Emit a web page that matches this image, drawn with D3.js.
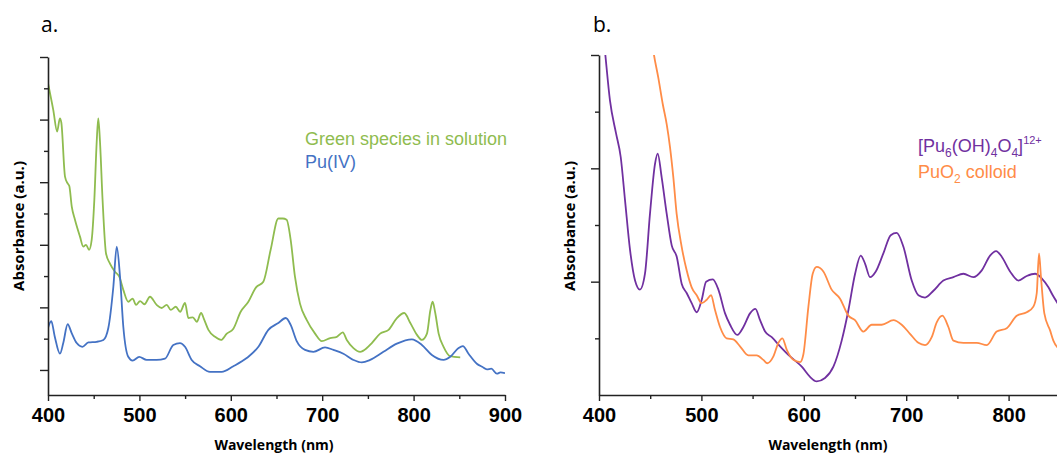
<!DOCTYPE html>
<html>
<head>
<meta charset="utf-8">
<script src="https://cdn.jsdelivr.net/npm/d3@7"></script>
<style>
  body { margin: 0; background: #fff; }
  svg { display: block; }
  .tick text { font-family: "Liberation Sans", Arial, sans-serif; font-weight: bold; font-size: 20px; fill: #000; }
  .title { font-family: "Open Sans", sans-serif; font-weight: bold; fill: #000; }
  .legend { font-family: "Liberation Sans", Arial, sans-serif; font-size: 18px; }
</style>
</head>
<body>
<svg id="chart" width="1057" height="454"></svg>
<script>
// panel a: [nm, absorbance]
const greenNm = [400, 405.8, 410, 413, 414.6, 418.6, 421.5, 423.3, 426, 429.5, 435, 438.6, 441.6, 444.9, 447.8, 450.7, 453.3, 455, 456.8, 459.7, 463.5, 467.8, 473.3, 478, 482.4, 487.8, 492.6, 496.3, 500.7, 505.5, 511.6, 518.9, 524.4, 529.9, 534.3, 539.8, 544.6, 549.9, 553.6, 558.5, 562.8, 567.5, 571, 575.5, 582.8, 589.3, 595.6, 602.8, 610.8, 619.2, 627.6, 635.6, 643.6, 652, 656.8, 661.1, 665.5, 670.2, 675.7, 683, 692.2, 699.5, 708.7, 716, 722.5, 726.9, 734.2, 741.5, 748.8, 754.3, 763.4, 772.6, 781.7, 789.8, 796.4, 803.7, 809.1, 814.6, 818.3, 820.8, 823.7, 827.4, 832.8, 840.1, 851];
const greenAbs = [4.58, 4.15, 3.81, 4.02, 3.95, 3.09, 2.98, 2.94, 2.61, 2.40, 2.13, 1.97, 2.00, 1.92, 2.08, 2.72, 3.65, 4.02, 3.67, 2.72, 1.86, 1.70, 1.57, 1.49, 1.28, 1.09, 1.14, 1.04, 1.10, 1.05, 1.17, 1.04, 0.99, 1.04, 0.96, 1.01, 0.93, 1.07, 0.83, 0.84, 0.77, 0.91, 0.80, 0.64, 0.53, 0.48, 0.58, 0.66, 0.93, 1.09, 1.32, 1.41, 1.92, 2.42, 2.42, 2.40, 2.08, 1.49, 1.06, 0.80, 0.58, 0.46, 0.51, 0.53, 0.60, 0.48, 0.35, 0.29, 0.35, 0.43, 0.58, 0.64, 0.83, 0.91, 0.75, 0.56, 0.48, 0.58, 0.95, 1.09, 0.91, 0.58, 0.37, 0.22, 0.20];

const blueNm = [400, 403.6, 407.3, 413.1, 416.7, 421.5, 425.9, 431.4, 437.6, 444.2, 453.3, 460.6, 466, 471.5, 475.2, 478.8, 482.4, 487.8, 492.6, 499.8, 507.9, 518.9, 528, 537.1, 544.4, 549.9, 557.2, 566.3, 577.2, 590, 602.8, 617.4, 630.2, 641.1, 652, 660.1, 665.5, 672.1, 681.2, 690.4, 703.1, 712.3, 723.2, 734.2, 743.3, 752.4, 767, 781.7, 798.1, 809.1, 820, 832.8, 840.1, 849.2, 853.9, 860.1, 869.2, 875, 880.2, 885, 891.1, 895, 900];
const blueAbs = [0.67, 0.78, 0.54, 0.26, 0.43, 0.73, 0.59, 0.43, 0.37, 0.44, 0.45, 0.48, 0.67, 1.33, 1.97, 1.49, 0.69, 0.21, 0.15, 0.21, 0.16, 0.16, 0.18, 0.40, 0.43, 0.37, 0.16, 0.06, -0.03, -0.03, 0.06, 0.19, 0.37, 0.64, 0.75, 0.83, 0.72, 0.46, 0.32, 0.29, 0.36, 0.32, 0.26, 0.16, 0.12, 0.16, 0.29, 0.42, 0.49, 0.40, 0.24, 0.16, 0.21, 0.35, 0.38, 0.26, 0.10, 0.05, 0.01, 0.02, -0.06, -0.04, -0.05];

// panel b
const purpleNm = [403, 406.2, 410.7, 416.6, 421.2, 425.4, 430.3, 435.2, 440, 444.9, 449.8, 454.7, 457.3, 461.2, 466.1, 471, 475.9, 480.8, 485.6, 490.5, 495.4, 500.3, 504.6, 511.1, 516.6, 523.1, 528, 535.1, 541, 547.5, 552.7, 557.3, 562.2, 568.7, 576.8, 586.6, 598, 606.1, 612.6, 620.7, 628.9, 637, 643.6, 650.1, 655.6, 659.8, 664.7, 670.3, 677.7, 684.9, 690.7, 697.2, 705.4, 711.9, 718.4, 726.6, 736.3, 746.1, 755.9, 765.6, 773.8, 781.9, 787.8, 793.3, 801.4, 809.6, 817.7, 825.8, 832.3, 838.9, 843.1, 850];
const purpleAbs = [3.3, 3.0, 2.60, 2.31, 2.10, 1.72, 1.28, 1.01, 0.93, 1.07, 1.60, 2.04, 2.13, 1.92, 1.60, 1.32, 1.22, 0.98, 0.90, 0.81, 0.73, 0.84, 1.00, 1.02, 0.93, 0.72, 0.62, 0.53, 0.60, 0.72, 0.76, 0.66, 0.56, 0.51, 0.43, 0.34, 0.25, 0.16, 0.12, 0.15, 0.25, 0.48, 0.75, 1.07, 1.23, 1.16, 1.04, 1.09, 1.25, 1.41, 1.43, 1.31, 1.01, 0.88, 0.86, 0.92, 1.01, 1.04, 1.07, 1.04, 1.10, 1.23, 1.27, 1.22, 1.09, 1.01, 1.05, 1.07, 1.03, 0.95, 0.88, 0.78];

const orangeNm = [452, 453.7, 457.9, 462.2, 466.1, 469.3, 472.6, 475.8, 480.7, 485.6, 490.5, 495.4, 500.3, 505.2, 509.4, 513.3, 518.2, 524.7, 531.2, 537.7, 545.8, 554, 560.5, 564.4, 570.3, 575.2, 579.1, 583.3, 589.8, 596.4, 599.6, 604.5, 608.7, 612.6, 619.1, 627.2, 635.4, 643.5, 650, 658.2, 666.3, 676.1, 687.5, 695.6, 703.7, 711.9, 718.4, 724.9, 729.8, 735.3, 741.2, 746.1, 755.9, 768.9, 778.7, 788.4, 798.2, 808, 817.7, 824.2, 827.5, 829.7, 831.6, 834.9, 840.5, 843.7, 850];
const orangeAbs = [3.1, 3.0, 2.80, 2.57, 2.39, 2.19, 1.92, 1.60, 1.31, 1.10, 0.95, 0.88, 0.81, 0.84, 0.88, 0.75, 0.60, 0.50, 0.49, 0.43, 0.35, 0.35, 0.31, 0.28, 0.34, 0.46, 0.50, 0.40, 0.31, 0.29, 0.36, 0.78, 1.07, 1.13, 1.09, 0.93, 0.85, 0.70, 0.66, 0.56, 0.62, 0.62, 0.66, 0.62, 0.54, 0.46, 0.44, 0.51, 0.64, 0.70, 0.60, 0.48, 0.46, 0.46, 0.44, 0.56, 0.59, 0.70, 0.73, 0.78, 0.90, 1.25, 1.04, 0.72, 0.57, 0.48, 0.40];

const xTicksA = [400, 500, 600, 700, 800, 900];
const xMinorA = [450, 550, 650, 750, 850];
// panel b is cut at the right edge of the picture
const xTicksB = [400, 500, 600, 700, 800];
const xMinorB = [450, 550, 650, 750];

const svg = d3.select("#chart");
const zip = (xs, ys) => xs.map((x, i) => [x, ys[i]]);

function panel(opts) {
  const { x0, x1, yTop, yBot, yDomain, major, minor, xTicks, xMinor, series, label, labelX, titleX, titleY, legend, clipId } = opts;
  const x = d3.scaleLinear().domain([400, 900]).range([x0, x1]);
  const y = d3.scaleLinear().domain(yDomain).range([yBot, yTop]);
  const g = svg.append("g");

  g.append("clipPath").attr("id", clipId)
    .append("rect").attr("x", x0).attr("y", yTop).attr("width", x1 - x0).attr("height", yBot - yTop);

  const line = d3.line().x(d => x(d[0])).y(d => y(d[1])).curve(d3.curveMonotoneX);
  series.forEach(s => {
    g.append("path")
      .attr("d", line(zip(s.nm, s.abs)))
      .attr("fill", "none")
      .attr("stroke", s.color)
      .attr("stroke-width", 1.8)
      .attr("stroke-linejoin", "round")
      .attr("clip-path", `url(#${clipId})`);
  });

  // y axis, major then minor ticks, no labels
  g.append("g").attr("transform", `translate(${x0},0)`)
    .call(d3.axisLeft(y).tickValues(major).tickSize(8).tickSizeOuter(0).tickFormat(""));
  g.append("g").attr("transform", `translate(${x0},0)`)
    .call(d3.axisLeft(y).tickValues(minor).tickSize(4).tickSizeOuter(0).tickFormat(""))
    .select(".domain").remove();

  g.append("g").attr("transform", `translate(0,${yBot})`)
    .call(d3.axisBottom(x).tickValues(xTicks).tickSize(6).tickPadding(7).tickSizeOuter(0).tickFormat(d3.format("d")));
  g.append("g").attr("transform", `translate(0,${yBot})`)
    .call(d3.axisBottom(x).tickValues(xMinor).tickSize(4).tickSizeOuter(0).tickFormat(""))
    .select(".domain").remove();

  g.selectAll(".domain").attr("stroke", "#222").attr("stroke-width", 1.6);
  g.selectAll(".tick line").attr("stroke", "#222").attr("stroke-width", 1.4);

  g.append("text").attr("class", "title")
    .attr("x", titleX).attr("y", 450).attr("text-anchor", "middle")
    .attr("font-size", 14).text("Wavelength (nm)");
  g.append("text").attr("class", "title")
    .attr("transform", `translate(${titleY},226) rotate(-90)`)
    .attr("text-anchor", "middle").attr("dy", "0.35em")
    .attr("font-size", 15).text("Absorbance (a.u.)");

  g.append("text")
    .attr("x", labelX).attr("y", 32)
    .attr("font-family", "'Open Sans', sans-serif").attr("font-size", 21)
    .text(label);

  legend(g);
}

panel({
  x0: 48, x1: 505, yTop: 57, yBot: 395,
  yDomain: [-0.4, 5], major: [0, 1, 2, 3, 4, 5], minor: [0.5, 1.5, 2.5, 3.5, 4.5],
  xTicks: xTicksA, xMinor: xMinorA,
  series: [
    { nm: greenNm, abs: greenAbs, color: "#8fbc4f" },
    { nm: blueNm, abs: blueAbs, color: "#4472c4" }
  ],
  label: "a.", labelX: 41, titleX: 274, titleY: 19, clipId: "clipA",
  legend: g => {
    g.append("text").attr("class", "legend").attr("x", 305).attr("y", 145)
      .attr("fill", "#8fbc4f").text("Green species in solution");
    g.append("text").attr("class", "legend").attr("x", 305).attr("y", 168)
      .attr("fill", "#4472c4").text("Pu(IV)");
  }
});

panel({
  x0: 599, x1: 1111, yTop: 55, yBot: 395,
  yDomain: [0, 3], major: [1, 2, 3], minor: [0.5, 1.5, 2.5],
  xTicks: xTicksB, xMinor: xMinorB,
  series: [
    { nm: purpleNm, abs: purpleAbs, color: "#7030a0" },
    { nm: orangeNm, abs: orangeAbs, color: "#ff8c47" }
  ],
  label: "b.", labelX: 593, titleX: 828, titleY: 570, clipId: "clipB",
  legend: g => {
    const t1 = g.append("text").attr("class", "legend").attr("x", 918).attr("y", 152).attr("fill", "#7030a0");
    t1.append("tspan").text("[Pu");
    t1.append("tspan").attr("font-size", 12).attr("dy", 5).text("6");
    t1.append("tspan").attr("dy", -5).text("(OH)");
    t1.append("tspan").attr("font-size", 12).attr("dy", 5).text("4");
    t1.append("tspan").attr("dy", -5).text("O");
    t1.append("tspan").attr("font-size", 12).attr("dy", 5).text("4");
    t1.append("tspan").attr("dy", -5).text("]");
    t1.append("tspan").attr("font-size", 11).attr("dy", -8).text("12+");
    const t2 = g.append("text").attr("class", "legend").attr("x", 918).attr("y", 178).attr("fill", "#ff8c47");
    t2.append("tspan").text("PuO");
    t2.append("tspan").attr("font-size", 12).attr("dy", 5).text("2");
    t2.append("tspan").attr("dy", -5).text(" colloid");
  }
});
</script>
</body>
</html>
